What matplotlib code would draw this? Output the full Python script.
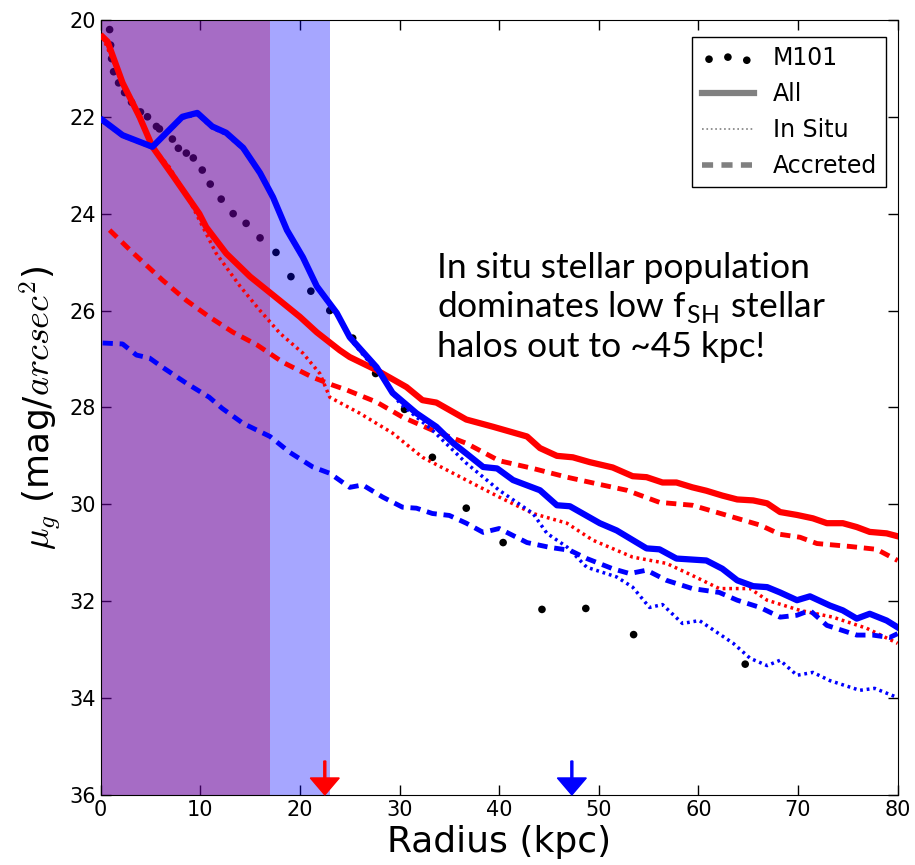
import matplotlib
matplotlib.use('Agg')
from matplotlib import pyplot as plt
from matplotlib.lines import Line2D

plt.rcParams['mathtext.fontset'] = 'cm'

# M101 observed profile
m101_r = [0.9, 1.0, 1.1, 1.3, 1.8, 2.4, 3.1, 4.0, 4.7, 5.6, 5.9, 7.2, 7.8, 8.6, 9.3,
          10.2, 11.0, 12.1, 13.3, 14.6, 16.0, 17.6, 19.1, 21.1, 23.0, 25.3, 27.6,
          30.5, 33.3, 36.7, 40.4, 44.3, 48.7, 53.5, 64.7]
m101_mu = [20.2, 20.52, 20.8, 21.07, 21.3, 21.5, 21.7, 21.9, 22.0, 22.2, 22.25, 22.46,
           22.65, 22.75, 22.85, 23.1, 23.39, 23.7, 24.0, 24.2, 24.5, 24.8, 25.3, 25.6,
           26.0, 26.57, 27.3, 28.04, 29.03, 30.08, 30.79, 32.17, 32.15, 32.69, 33.3]

# low f_SH halo (red)
red_all_r = [0.2, 0.7, 2.2, 3.9, 5.2, 7.2, 9.9, 10.6, 12.6, 15.0, 17.3, 20.0, 21.7, 24.0,
             25.0, 27.7, 30.7, 32.3, 33.7, 36.7, 39.4, 42.8, 44.1, 45.8, 47.4, 49.1,
             51.4, 53.4, 54.8, 56.4, 57.8, 59.4, 60.8, 62.4, 63.9, 65.5, 66.9, 68.2,
             69.9, 71.5, 72.9, 74.5, 75.9, 77.2, 78.9, 80.0]
red_all_mu = [20.35, 20.45, 21.3, 22.0, 22.62, 23.2, 24.0, 24.28, 24.82, 25.3, 25.68,
              26.13, 26.45, 26.82, 26.96, 27.23, 27.58, 27.85, 27.9, 28.25, 28.4, 28.6,
              28.84, 29.0, 29.03, 29.13, 29.24, 29.42, 29.44, 29.55, 29.55, 29.65, 29.72,
              29.82, 29.9, 29.92, 29.98, 30.16, 30.22, 30.29, 30.39, 30.39, 30.47, 30.57,
              30.6, 30.66]

red_insitu_r = [0.2, 2.2, 5.2, 6.9, 8.9, 11.6, 14.0, 16.0, 18.0, 20.3, 22.0, 23.0, 24.0,
                26.0, 29.3, 32.3, 36.7, 40.0, 43.4, 46.8, 49.4, 53.4, 56.8, 59.4, 62.1,
                65.2, 66.9, 70.2, 73.5, 76.9, 80.0]
red_insitu_mu = [20.35, 21.3, 22.62, 23.04, 23.72, 24.82, 25.5, 26.0, 26.47, 26.88, 27.3,
                 27.79, 27.9, 28.12, 28.53, 29.03, 29.5, 29.85, 30.19, 30.39, 30.74,
                 31.09, 31.22, 31.47, 31.74, 31.74, 31.98, 32.19, 32.33, 32.56, 32.87]

red_acc_r = [0.9, 3.2, 6.2, 8.6, 10.9, 13.3, 15.7, 18.3, 21.3, 23.3, 24.7, 27.7, 30.3,
             33.3, 36.7, 40.0, 43.4, 46.8, 50.1, 52.8, 56.1, 59.4, 62.9, 66.2, 68.2,
             70.2, 71.9, 75.2, 77.9, 80.0]
red_acc_mu = [24.34, 24.8, 25.37, 25.79, 26.13, 26.45, 26.71, 27.07, 27.38, 27.54, 27.64,
              27.89, 28.2, 28.47, 28.74, 29.1, 29.26, 29.44, 29.59, 29.71, 29.96, 30.02,
              30.23, 30.43, 30.62, 30.68, 30.81, 30.87, 30.93, 31.16]

# high f_SH halo (blue)
blue_all_r = [0.2, 2.2, 5.2, 8.2, 9.7, 11.2, 12.6, 14.3, 16.0, 17.3, 18.7, 20.3, 21.7,
              23.7, 25.0, 27.7, 29.3, 31.7, 33.7, 35.4, 36.7, 38.4, 39.8, 41.4, 44.1,
              45.8, 47.1, 50.1, 51.8, 54.8, 56.1, 57.8, 60.8, 62.4, 63.9, 65.5, 66.9,
              68.2, 69.9, 71.2, 73.2, 74.5, 75.9, 77.2, 78.9, 80.0]
blue_all_mu = [22.07, 22.38, 22.62, 22.0, 21.92, 22.2, 22.33, 22.64, 23.16, 23.66, 24.34,
               24.9, 25.5, 26.05, 26.55, 27.17, 27.7, 28.12, 28.4, 28.74, 28.95, 29.23,
               29.26, 29.5, 29.71, 30.02, 30.04, 30.39, 30.54, 30.91, 30.93, 31.12,
               31.16, 31.33, 31.57, 31.69, 31.71, 31.82, 31.98, 31.9, 32.09, 32.19,
               32.36, 32.26, 32.4, 32.54]

blue_insitu_r = [0.2, 2.2, 5.2, 8.2, 9.7, 11.2, 12.6, 14.3, 16.0, 17.3, 18.7, 20.3, 21.7,
                 23.7, 25.0, 26.5, 28.3, 30.0, 33.3, 36.7, 40.0, 43.4, 44.8, 46.8, 48.8,
                 51.8, 53.4, 55.1, 56.4, 58.4, 60.1, 63.5, 65.2, 66.9, 68.2, 69.9, 71.5,
                 73.2, 76.2, 77.7, 80.0]
blue_insitu_mu = [22.1, 22.4, 22.64, 22.03, 21.95, 22.23, 22.36, 22.67, 23.19, 23.69,
                  24.37, 24.93, 25.53, 26.08, 26.58, 26.95, 27.38, 27.91, 28.47, 29.15,
                  29.71, 30.19, 30.6, 30.88, 31.3, 31.5, 31.71, 32.13, 32.07, 32.46, 32.4,
                  32.87, 33.18, 33.33, 33.22, 33.53, 33.47, 33.64, 33.84, 33.8, 33.99]

blue_acc_r = [0.2, 2.2, 3.6, 4.9, 6.2, 8.6, 10.9, 12.2, 14.3, 17.0, 19.0, 21.3, 23.0,
              25.0, 26.3, 28.3, 30.3, 31.7, 33.3, 35.0, 36.7, 38.4, 40.0, 42.8, 45.1,
              47.1, 48.8, 51.4, 53.1, 54.8, 56.8, 59.4, 62.1, 63.9, 66.2, 68.2, 69.9,
              71.2, 72.9, 75.9, 77.5, 79.2, 80.0]
blue_acc_mu = [26.67, 26.69, 26.92, 26.98, 27.17, 27.5, 27.79, 28.02, 28.33, 28.6, 28.93,
               29.23, 29.36, 29.65, 29.6, 29.85, 30.06, 30.08, 30.19, 30.23, 30.39, 30.58,
               30.5, 30.79, 30.89, 30.95, 31.12, 31.33, 31.43, 31.36, 31.57, 31.74, 31.82,
               31.98, 32.13, 32.33, 32.29, 32.19, 32.5, 32.7, 32.7, 32.75, 32.67]

# shaded inner regions and arrow positions
red_span = 17.0
blue_span = 23.0
red_arrow = 22.5
blue_arrow = 47.3

fig = plt.figure(figsize=(9.15, 8.65), dpi=100)
ax = fig.add_axes([0.110, 0.081, 0.871, 0.896])

ax.scatter(m101_r, m101_mu, s=30, c='black', edgecolors='none', zorder=1, label='M101')
ax.axvspan(0, red_span, color='red', alpha=0.35, lw=0, zorder=2)
ax.axvspan(0, blue_span, color='blue', alpha=0.35, lw=0, zorder=2)

solid = dict(lw=4.5, zorder=3)
dotted = dict(lw=2.5, ls=':', dashes=(0.8, 1.1), zorder=3)
dashed = dict(lw=3.5, ls='--', dashes=(2.1, 1.4), zorder=3)

ax.plot(red_all_r, red_all_mu, color='red', **solid)
ax.plot(red_insitu_r, red_insitu_mu, color='red', **dotted)
ax.plot(red_acc_r, red_acc_mu, color='red', **dashed)
ax.plot(blue_all_r, blue_all_mu, color='blue', **solid)
ax.plot(blue_insitu_r, blue_insitu_mu, color='blue', **dotted)
ax.plot(blue_acc_r, blue_acc_mu, color='blue', **dashed)

for xa, col in [(red_arrow, 'red'), (blue_arrow, 'blue')]:
    ax.arrow(xa, 35.3, 0, 0.7, width=0.2, head_width=2.9, head_length=0.35,
             length_includes_head=True, fc=col, ec=col, zorder=4, clip_on=False)

ax.text(33.8, 26.96, 'In situ stellar population\ndominates low f$_{\\mathregular{SH}}$ stellar\nhalos out to ~45 kpc!',
        family='Lato', fontsize=25.5, va='baseline', ha='left', linespacing=1.2, zorder=5)

ax.set_xlim(0, 80)
ax.set_ylim(36, 20)
ax.set_xticks(range(0, 81, 10))
ax.set_yticks(range(20, 37, 2))
ax.tick_params(direction='in', length=7, width=1, top=True, right=True, labelsize=15)
ax.set_xlabel('Radius (kpc)', fontsize=26)
ax.set_ylabel(r'$\mu_g$ (mag/$arcsec^2$)', fontsize=26)

handles = [
    ax.collections[0],
    Line2D([], [], color='gray', lw=4.5),
    Line2D([], [], color='gray', lw=1.2, ls=':'),
    Line2D([], [], color='gray', lw=4, ls='--', dashes=(2, 1.5)),
]
leg = ax.legend(handles, ['M101', 'All', 'In Situ', 'Accreted'], loc='upper right',
                bbox_to_anchor=(0.986, 0.978), borderaxespad=0,
                fontsize=17, scatterpoints=3, fancybox=False, framealpha=1,
                edgecolor='black', handlelength=2.2, borderpad=0.4, labelspacing=0.5)
leg.get_frame().set_linewidth(1)

fig.savefig('out.png', dpi=100)
